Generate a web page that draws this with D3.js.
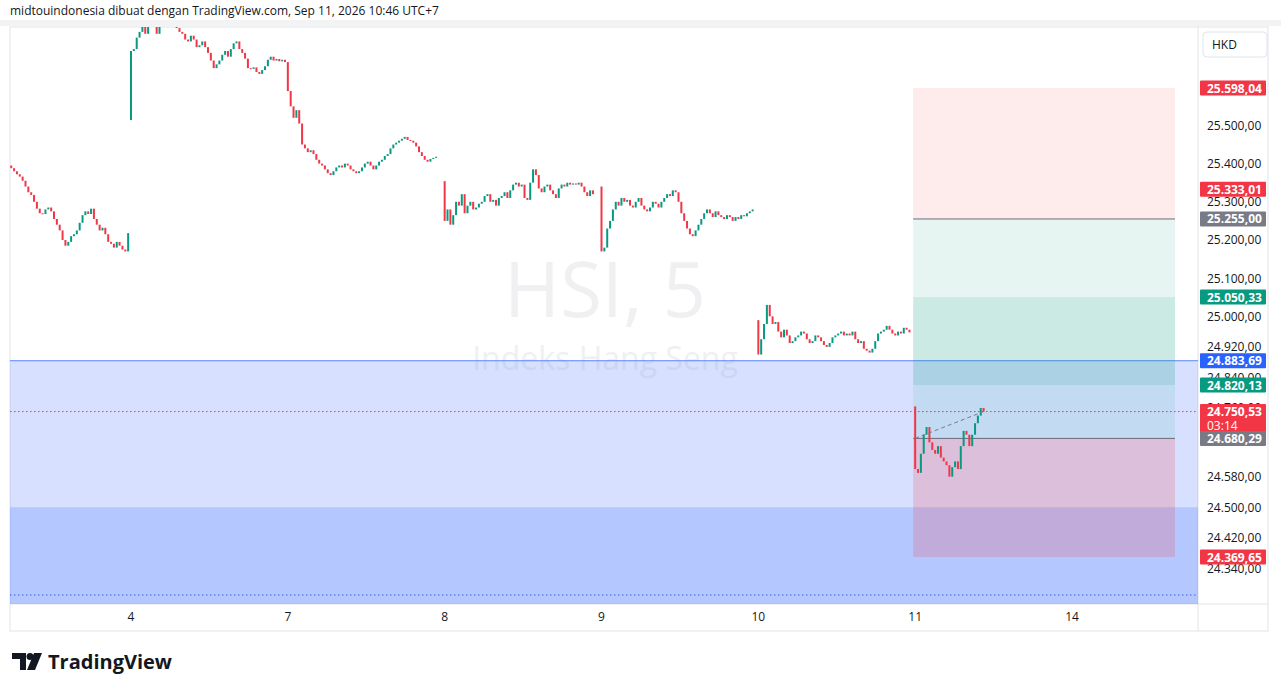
<!DOCTYPE html>
<html><head><meta charset="utf-8">
<script src="https://cdn.jsdelivr.net/npm/d3@7/dist/d3.min.js"></script>
<style>body{margin:0;background:#fff;font-family:"Open Sans","Liberation Sans",sans-serif}</style>
</head><body><svg id="c" width="1281" height="692"></svg>
<script>
// ---- data ----
const dayLabels = ["3","4","7","8","9","10","11","14"];
const tickDays = ["4","7","8","9","10","11","14"];
const sess3 = [25404,25395,25388,25380,25372,25366,25355,25340,25325,25318,25300,25282,25270,25268,25280,25285,25275,25255,25240,25225,25200,25185,25195,25210,25215,25225,25245,25265,25275,25268,25282,25255,25240,25225,25232,25215,25195,25190,25180,25195,25185,25175,25170,25218];
const sess4 = [25695,25700,25730,25745,25760,25740,25770,25765,25775,25740,25760,25770,25775,25765,25770,25765,25755,25745,25740,25725,25720,25735,25725,25705,25710,25720,25705,25690,25670,25650,25660,25670,25685,25695,25680,25700,25715,25720,25700,25690,25675,25650,25648,25652,25640,25635,25645,25655,25672,25680,25670,25674,25668,25672,25666];
const sess7 = [25590,25550,25520,25540,25505,25450,25440,25430,25435,25425,25410,25400,25395,25385,25375,25370,25380,25390,25395,25390,25400,25395,25385,25380,25375,25380,25390,25400,25405,25395,25385,25395,25405,25410,25420,25425,25440,25450,25455,25460,25465,25470,25462,25460,25455,25445,25430,25420,25410,25405,25412,25415,25418];
const sess8 = [25250,25280,25240,25265,25300,25290,25320,25270,25290,25300,25280,25285,25295,25300,25315,25320,25300,25305,25290,25310,25315,25325,25310,25330,25345,25350,25340,25345,25310,25305,25350,25385,25370,25335,25325,25340,25345,25330,25320,25310,25335,25345,25340,25350,25345,25348,25345,25350,25340,25325,25315,25330,25320];
const sess9 = [25170,25180,25230,25250,25280,25300,25290,25310,25300,25305,25290,25285,25300,25310,25290,25280,25275,25285,25300,25295,25285,25300,25310,25320,25315,25330,25325,25300,25270,25250,25230,25215,25210,25225,25240,25255,25270,25280,25270,25260,25275,25265,25260,25255,25265,25260,25250,25260,25255,25265,25262,25270,25275,25280];
const sess10 = [24900,24940,24980,25030,25000,24980,24985,24960,24945,24965,24950,24930,24935,24945,24950,24960,24955,24940,24930,24935,24950,24945,24935,24925,24920,24930,24945,24950,24955,24960,24950,24955,24950,24960,24940,24930,24935,24915,24910,24905,24915,24935,24955,24960,24965,24975,24965,24955,24950,24960,24955,24970,24965,24958];
const sess11 = [24600,24590,24640,24690,24710,24670,24650,24640,24660,24630,24620,24610,24580,24605,24620,24600,24660,24700,24690,24660,24690,24720,24740,24760,24750.53];
const sessOpens = [25404,25514,25666,25354,25340,24990,24764];
const priceTicks = [25500,25400,25300,25200,25100,25000,24920,24840,24760,24680,24580,24500,24420,24340];
const tags = [
 {v:25598.04,c:"#f23645"},{v:25333.01,c:"#f23645"},{v:25255.00,c:"#787b86"},
 {v:25050.33,c:"#089981"},{v:24883.69,c:"#2962ff"},{v:24820.13,c:"#089981"},
 {v:24750.53,c:"#f23645",sub:"03:14"},{v:24680.29,c:"#787b86"},{v:24369.65,c:"#f23645"}];
const levels = {target:25598.04, entry:25255.00, mid1:25050.33, mid2:24820.13, entry2:24680.29, stop:24369.65, zone:24883.69, zone2:24500, last:24750.53, low:24270};

// ---- scales ----
const svg = d3.select("#c");
const L=10,R=1198,T=27,B=604, per=55;
const x = d3.scaleLinear().domain([per, per*7]).range([131,1072]);
const y = d3.scaleLinear().domain([24369.65,25598.04]).range([557,88]);
const fmt = v => d3.format(",.2f")(v).replace(/,/g,"#").replace(".",",").replace(/#/g,".");

svg.append("rect").attr("x",0).attr("y",0).attr("width",1281).attr("height",692).attr("fill","#fff");
svg.append("rect").attr("x",L).attr("y",T).attr("width",1268-L).attr("height",631-T).attr("fill","none").attr("stroke","#e0e3eb");
svg.append("line").attr("x1",R).attr("x2",R).attr("y1",T).attr("y2",631).attr("stroke","#e0e3eb");
svg.append("line").attr("x1",L).attr("x2",1268).attr("y1",B).attr("y2",B).attr("stroke","#e0e3eb");
svg.append("rect").attr("x",0).attr("y",0).attr("width",1281).attr("height",20).attr("fill","#fff");
svg.append("rect").attr("x",0).attr("y",20).attr("width",1281).attr("height",6).attr("fill","#f3f3f3");

svg.append("text").attr("x",605).attr("y",317).attr("text-anchor","middle").attr("font-size",76).attr("fill","#f0f0f2").text("HSI, 5");
svg.append("text").attr("x",605).attr("y",370).attr("text-anchor","middle").attr("font-size",32).attr("fill","#f0f0f2").text("Indeks Hang Seng");

const g = svg.append("g");
g.append("clipPath").attr("id","cp").append("rect").attr("x",L).attr("y",T).attr("width",R-L).attr("height",B-T);
const plot = g.append("g").attr("clip-path","url(#cp)");

plot.append("rect").attr("x",L).attr("width",R-L).attr("y",y(levels.zone)).attr("height",B-y(levels.zone)).attr("fill","rgba(41,98,255,0.19)");
plot.append("rect").attr("x",L).attr("width",R-L).attr("y",y(levels.zone2)).attr("height",B-y(levels.zone2)).attr("fill","rgba(41,98,255,0.2)");
plot.append("line").attr("x1",L).attr("x2",R).attr("y1",y(levels.zone)).attr("y2",y(levels.zone)).attr("stroke","#5b85ff").attr("stroke-width",1);
plot.append("line").attr("x1",L).attr("x2",R).attr("y1",y(levels.low)).attr("y2",y(levels.low)).attr("stroke","#2962ff").attr("stroke-dasharray","1.5,2.5");

const px0 = x(per*6)-2, px1 = 1175;
const box=(a,b,col)=>plot.append("rect").attr("x",px0).attr("width",px1-px0).attr("y",y(a)).attr("height",y(b)-y(a)).attr("fill",col);
box(levels.target,levels.entry,"rgba(242,54,69,0.1)");
box(levels.entry,levels.entry2,"rgba(8,153,129,0.1)");
box(levels.mid1,levels.mid2,"rgba(8,153,129,0.12)");
box(levels.entry2,levels.stop,"rgba(242,54,69,0.2)");
[levels.entry,levels.entry2].forEach(v=>plot.append("line").attr("x1",px0).attr("x2",px1).attr("y1",y(v)).attr("y2",y(v)).attr("stroke","#6a6d78").attr("stroke-width",1));

plot.append("line").attr("x1",L).attr("x2",R).attr("y1",y(levels.last)).attr("y2",y(levels.last)).attr("stroke","#f23645").attr("stroke-dasharray","1.5,2.5");

const sessions=[sess3,sess4,sess7,sess8,sess9,sess10,sess11];
sessions.forEach((s,d)=>{
  const start = d===0 ? per - s.length : d*per;
  let prev = sessOpens[d];
  s.forEach((c,i)=>{
    const o=prev, up=c>=o, xx=x(start+i);
    const y1=y(Math.max(o,c)), y2=y(Math.min(o,c));
    plot.append("rect").attr("x",xx-1).attr("width",2).attr("y",y1).attr("height",Math.max(1,y2-y1)).attr("fill",up?"#089981":"#f23645");
    prev=c;
  });
});
plot.append("line").attr("x1",x(per*6)).attr("y1",y(levels.entry2)).attr("x2",x(per*6+sess11.length-1)).attr("y2",y(levels.last)).attr("stroke","#787b86").attr("stroke-dasharray","4,3");

priceTicks.forEach(v=>svg.append("text").attr("x",1207).attr("y",y(v)+4.5).attr("font-size",12).attr("fill","#131722").text(fmt(v)));
tags.forEach(t=>{
  const h=t.sub?30:15, yy=y(t.v)-7.5;
  svg.append("rect").attr("x",1200).attr("y",yy).attr("width",66).attr("height",h).attr("fill",t.c).attr("rx",1);
  svg.append("text").attr("x",1207).attr("y",yy+12).attr("font-size",12).attr("font-weight","bold").attr("fill","#fff").text(fmt(t.v));
  if(t.sub) svg.append("text").attr("x",1207).attr("y",yy+26).attr("font-size",12).attr("fill","#fff").text(t.sub);
});
svg.append("rect").attr("x",1203).attr("y",32).attr("width",64).attr("height",25).attr("rx",4).attr("fill","#fff").attr("stroke","#e0e3eb");
svg.append("text").attr("x",1212).attr("y",49).attr("font-size",12).attr("fill","#131722").text("HKD");

tickDays.forEach((t,i)=>svg.append("text").attr("x",x(per*(i+1))).attr("y",621).attr("text-anchor","middle").attr("font-size",12).attr("fill","#131722").text(t));

svg.append("text").attr("x",10).attr("y",15).attr("font-size",12).attr("fill","#131722").text("midtouindonesia dibuat dengan TradingView.com, Sep 11, 2026 10:46 UTC+7");
const lg=svg.append("g").attr("transform","translate(12,653)");
lg.append("path").attr("d","M0 0H14V17H8V6H0Z").attr("fill","#131722");
lg.append("circle").attr("cx",18).attr("cy",3.5).attr("r",3.5).attr("fill","#131722");
lg.append("path").attr("d","M22 0H30L23 17H15Z").attr("fill","#131722");
svg.append("text").attr("x",48).attr("y",669).attr("font-size",20).attr("font-weight","bold").attr("fill","#131722").text("TradingView");
</script></body></html>
